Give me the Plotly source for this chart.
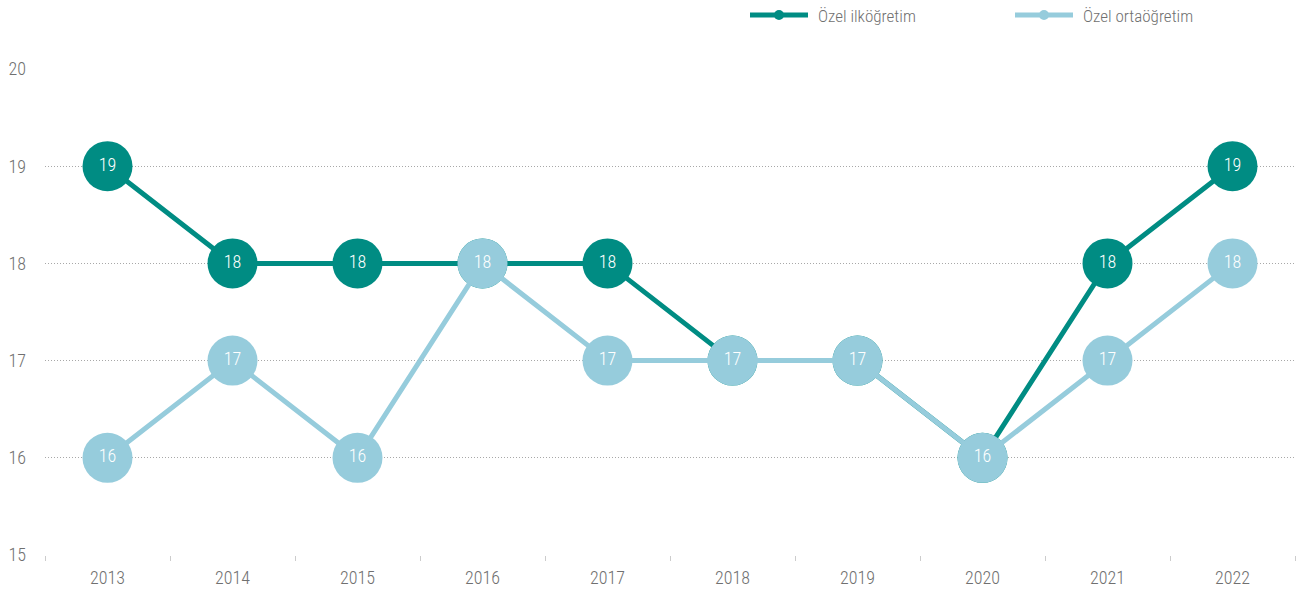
import plotly.graph_objects as go

years = ["2013", "2014", "2015", "2016", "2017", "2018", "2019", "2020", "2021", "2022"]
ilkogretim = [19, 18, 18, 18, 18, 17, 17, 16, 18, 19]
ortaogretim = [16, 17, 16, 18, 17, 17, 17, 16, 17, 18]
series_names = ["Özel ilköğretim", "Özel ortaöğretim"]

dark = "rgb(0,140,131)"
light = "rgb(150,204,220)"
grey_text = "#707070"
font_family = "Roboto Condensed, Liberation Sans, Arial, sans-serif"
fsize = 17
tick_size = 18
fweight = 300

fig = go.Figure()
for name, vals, col in [(series_names[0], ilkogretim, dark),
                        (series_names[1], ortaogretim, light)]:
    fig.add_trace(go.Scatter(
        x=years, y=vals, name=name,
        mode="lines+markers+text",
        line=dict(color=col, width=5),
        marker=dict(color=col, size=50),
        text=[str(v) for v in vals],
        textposition="middle center",
        textfont=dict(color="white", size=tick_size, family=font_family, weight=fweight),
        cliponaxis=False,
        showlegend=False,
    ))

# legend drawn by hand: long line with a small dot, then the label
legend_items = [(series_names[0], dark, 750), (series_names[1], light, 1015)]
for name, col, x0 in legend_items:
    fig.add_shape(type="line", xref="paper", yref="paper",
                  x0=(x0 - 45) / 1250, x1=(x0 + 58 - 45) / 1250,
                  y0=1 + (69 - 15) / 486, y1=1 + (69 - 15) / 486,
                  line=dict(color=col, width=5))
    fig.add_shape(type="circle", xref="paper", yref="paper",
                  x0=(x0 + 24 - 45) / 1250, x1=(x0 + 34 - 45) / 1250,
                  y0=1 + (69 - 20) / 486, y1=1 + (69 - 10) / 486,
                  fillcolor=col, line=dict(width=0))
    fig.add_annotation(text=name, xref="paper", yref="paper",
                       x=(x0 + 66 - 45) / 1250, y=1 + (69 - 16) / 486,
                       xanchor="left", yanchor="middle", showarrow=False,
                       font=dict(size=fsize, color=grey_text, family=font_family,
                                 weight=fweight))

fig.update_layout(
    width=1297, height=594,
    margin=dict(l=45, r=2, t=69, b=39),
    paper_bgcolor="white", plot_bgcolor="white",
    font=dict(family=font_family, color=grey_text, size=fsize, weight=fweight),
    showlegend=False,
    xaxis=dict(
        type="category", range=[-0.5, 9.5],
        showgrid=False, showline=False, zeroline=False,
        ticks="outside", tickson="boundaries", ticklen=5, tickcolor="#cccccc",
        ticklabelstandoff=10,
        tickfont=dict(size=tick_size, color=grey_text, weight=fweight),
    ),
    yaxis=dict(
        range=[15, 20], dtick=1, tick0=15,
        showgrid=True, gridcolor="#a8a8a8", griddash="1px,2px", gridwidth=1,
        showline=False, zeroline=False,
        ticklabelstandoff=18,
        tickfont=dict(size=tick_size, color=grey_text, weight=fweight),
    ),
)

fig.write_html("out.html")
